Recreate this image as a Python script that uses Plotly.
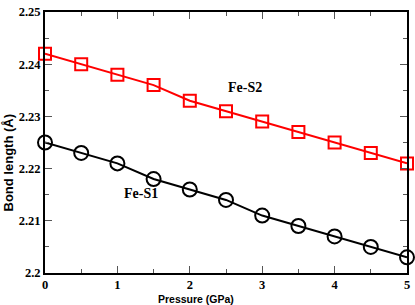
import plotly.graph_objects as go

pressure = [0, 0.5, 1, 1.5, 2, 2.5, 3, 3.5, 4, 4.5, 5]
fe_s2 = [2.242, 2.240, 2.238, 2.236, 2.233, 2.231, 2.229, 2.227, 2.225, 2.223, 2.221]
fe_s1 = [2.225, 2.223, 2.221, 2.218, 2.216, 2.214, 2.211, 2.209, 2.207, 2.205, 2.203]
x_ticks = [0, 1, 2, 3, 4, 5]
y_ticks = [2.2, 2.21, 2.22, 2.23, 2.24, 2.25]
y_ticklabels = ["2.2", "2.21", "2.22", "2.23", "2.24", "2.25"]

SERIF = "Liberation Serif"
SANS = "Liberation Sans"

fig = go.Figure()
fig.add_trace(go.Scatter(
    x=pressure, y=fe_s2, mode="lines+markers", name="Fe-S2",
    line=dict(color="#ff0000", width=2),
    marker=dict(symbol="square-open", size=12, color="#ff0000", line=dict(width=2)),
    cliponaxis=False,
))
fig.add_trace(go.Scatter(
    x=pressure, y=fe_s1, mode="lines+markers", name="Fe-S1",
    line=dict(color="#000000", width=2),
    marker=dict(symbol="circle-open", size=14, color="#000000", line=dict(width=2)),
    cliponaxis=False,
))

fig.add_annotation(x=2.76, y=2.2355, text="<b>Fe-S2</b>", showarrow=False,
                   font=dict(family=SERIF, size=14, color="black"))
fig.add_annotation(x=1.32, y=2.2153, text="<b>Fe-S1</b>", showarrow=False,
                   font=dict(family=SERIF, size=14, color="black"))

# axis titles (placed as in the reference, slightly off-centre)
fig.add_annotation(xref="x", yref="paper", x=2.09, y=-0.101, yanchor="middle",
                   text="<b>Pressure (GPa)</b>", showarrow=False,
                   font=dict(family=SANS, size=10.5, color="black"))
fig.add_annotation(xref="paper", yref="paper", x=-0.102, y=0.42, xanchor="center",
                   yanchor="middle", textangle=-90,
                   text="<b>Bond length (Å)</b>", showarrow=False,
                   font=dict(family=SANS, size=13, color="black"))

axis_common = dict(
    showline=True, linecolor="black", linewidth=2, mirror="ticks",
    ticks="inside", ticklen=7, tickwidth=1, tickcolor="#555555",
    showgrid=False, zeroline=False, ticklabeloverflow="allow",
    tickfont=dict(family=SERIF, size=12.5, color="black"),
)

fig.update_xaxes(
    range=[0, 5], tickvals=x_ticks, ticktext=[f"<b>{v}</b>" for v in x_ticks],
    minor=dict(ticks="inside", ticklen=4, dtick=0.5, tickcolor="#555555"),
    ticklabelstandoff=-1,
    **axis_common,
)
fig.update_yaxes(
    range=[2.2, 2.25], tickvals=y_ticks, ticktext=[f"<b>{t}</b>" for t in y_ticklabels],
    minor=dict(ticks="inside", ticklen=4, dtick=0.005, tickcolor="#555555"),
    **axis_common,
)

fig.update_layout(
    width=415, height=305,
    margin=dict(l=45, r=7, t=5, b=32),
    paper_bgcolor="white", plot_bgcolor="white",
    showlegend=False,
)

fig.write_html(
    "out.html",
    config={"displayModeBar": False},
    post_script="document.body.style.margin='0';document.body.style.overflow='hidden';",
)
